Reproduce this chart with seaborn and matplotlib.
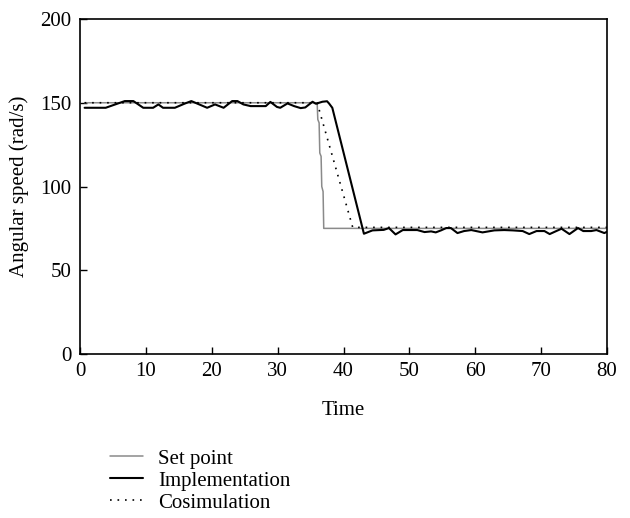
import matplotlib
matplotlib.use("Agg")
import matplotlib.pyplot as plt
import seaborn as sns
import pandas as pd

# ---- data ----
set_t = [0.7, 36.0, 36.1, 36.3, 36.4, 36.6, 36.7, 36.9, 37.0, 80.0]
set_v = [150, 150, 140, 138, 120, 118, 100, 97, 75, 75]

impl_t = [0.7, 3.9, 6.8, 8.1, 9.6, 11.1, 11.9, 12.6, 14.4, 15.9, 16.9, 18.7,
          19.3, 20.5, 21.8, 23.1, 23.9, 24.8, 25.9, 28.2, 28.9, 29.9, 30.4,
          31.5, 32.5, 33.5, 34.2, 35.3, 35.8, 36.8, 37.5, 37.8, 38.3, 43.1,
          44.4, 46.1, 46.9, 47.9, 49.0, 51.2, 52.3, 53.3, 54.0, 54.8, 55.6,
          56.3, 57.3, 58.3, 59.4, 61.1, 62.9, 64.4, 65.7, 67.2, 68.2, 69.3,
          70.5, 71.3, 72.3, 73.1, 74.3, 75.6, 76.4, 77.6, 78.4, 79.6, 80.0]
impl_v = [147, 147, 151, 151, 147, 147, 149, 147, 147, 149.5, 151, 148,
          147, 149, 147, 151, 151, 149, 148, 148, 150.5, 147.5, 147,
          149.6, 148, 146.8, 147.2, 150.6, 149.4, 150.6, 150.9, 149.6, 147, 71.8,
          73.8, 74.1, 75.2, 71.4, 74.0, 74.0, 72.8, 73.2, 72.6, 73.8, 75.2,
          75.2, 72.2, 73.4, 74.0, 72.6, 73.8, 74.0, 73.8, 73.4, 71.6, 73.4,
          73.4, 71.6, 73.4, 74.8, 71.6, 75.2, 73.4, 73.4, 74.0, 72.2, 73.0]

cosim_t = [0.7, 36.0, 41.4, 80.0]
cosim_v = [150, 150, 75.6, 75.6]

xticks = [0, 10, 20, 30, 40, 50, 60, 70, 80]
yticks = [0, 50, 100, 150, 200]

sns.set_theme(style="ticks")
plt.rcParams['font.family'] = ['Liberation Serif', 'DejaVu Serif']
plt.rcParams['font.size'] = 15

fig = plt.figure(figsize=(6.3, 5.18), dpi=100)
ax = fig.add_axes([80/630, 1-354/518, (607-80)/630, (354-19)/518])

d_set = pd.DataFrame({"t": set_t, "v": set_v})
d_imp = pd.DataFrame({"t": impl_t, "v": impl_v})
d_cos = pd.DataFrame({"t": cosim_t, "v": cosim_v})

sns.lineplot(data=d_set, x="t", y="v", ax=ax, color="#8a8a8a", lw=1.1,
             label="Set point", sort=False, estimator=None)
sns.lineplot(data=d_imp, x="t", y="v", ax=ax, color="black", lw=1.5,
             label="Implementation", sort=False, estimator=None)
sns.lineplot(data=d_cos, x="t", y="v", ax=ax, color="black", lw=1.2,
             linestyle=(0, (1, 3.5)), label="Cosimulation", sort=False, estimator=None)

ax.set_xlim(0, 80)
ax.set_ylim(0, 200)
ax.set_xticks(xticks)
ax.set_yticks(yticks)
ax.tick_params(direction="in", length=5, width=1, labelsize=15, color="black",
               labelcolor="black", top=False, right=False, pad=6)
for s in ax.spines.values():
    s.set_visible(True)
    s.set_color("black")
    s.set_linewidth(1.2)
ax.set_xlabel("Time", fontsize=15, labelpad=14, color="black")
ax.set_ylabel("Angular speed (rad/s)", fontsize=15, labelpad=8, color="black")

h, l = ax.get_legend_handles_labels()
ax.get_legend().remove()
fig.legend(h, l, loc="upper left", bbox_to_anchor=(110/630, 1-449/518),
           frameon=False, fontsize=15, handlelength=1.6, handletextpad=0.7,
           labelspacing=0.12, borderaxespad=0, borderpad=0, labelcolor="black")

fig.savefig("out.png", dpi=100, facecolor="white")
